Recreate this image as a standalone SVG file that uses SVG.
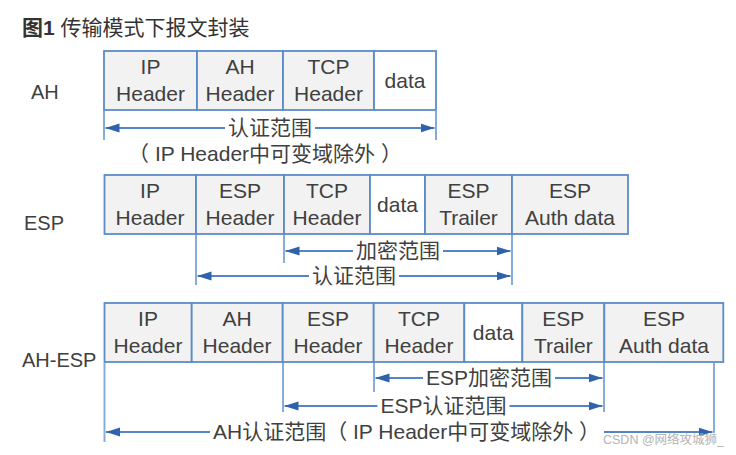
<svg xmlns="http://www.w3.org/2000/svg" width="736" height="455" viewBox="0 0 736 455">
<style>
text{font-family:"Liberation Sans","Noto Sans CJK SC",sans-serif;fill:#404040}
.t{font-size:21px;text-anchor:middle}
.lbl{font-size:20px}
.cell{fill:#f2f2f2;stroke:#5b8bc9;stroke-width:1.8}
.wc{fill:#ffffff;stroke:#5b8bc9;stroke-width:1.8}
.vl{stroke:#86acdc;stroke-width:2;fill:none}
.ar{stroke:#5585c5;stroke-width:2;fill:none}
.s{marker-start:url(#ah)}
.e{marker-end:url(#ah)}
</style>
<defs>
<marker id="ah" viewBox="0 0 14 10" refX="14" refY="5" markerWidth="14" markerHeight="10" markerUnits="userSpaceOnUse" orient="auto-start-reverse">
<path d="M0,0.5 L14,5 L0,9.5 z" fill="#2e62ab"/>
</marker>
</defs>
<rect width="736" height="455" fill="#ffffff"/>

<g id="title">
<text x="22" y="35" style="font-size:21px;fill:#333"><tspan font-weight="bold">图1</tspan> 传输模式下报文封装</text>
</g>

<!-- AH row -->
<g id="label-ah"><text class="lbl" x="31" y="99">AH</text></g>
<g id="ah-ipheader"><rect class="cell" x="104" y="51" width="93" height="59"/><text class="t" x="150.5" y="73.5">IP</text><text class="t" x="150.5" y="100.5">Header</text></g>
<g id="ah-ahheader"><rect class="cell" x="197" y="51" width="86" height="59"/><text class="t" x="240" y="73.5">AH</text><text class="t" x="240" y="100.5">Header</text></g>
<g id="ah-tcpheader"><rect class="cell" x="283" y="51" width="91" height="59"/><text class="t" x="328.5" y="73.5">TCP</text><text class="t" x="328.5" y="100.5">Header</text></g>
<g id="ah-data"><rect class="wc" x="374" y="51" width="62" height="59"/><text class="t" x="405" y="88">data</text></g>

<!-- ESP row -->
<g id="label-esp"><text class="lbl" x="24" y="230">ESP</text></g>
<g id="esp-ipheader"><rect class="cell" x="104.5" y="175" width="91.5" height="59"/><text class="t" x="150" y="197.5">IP</text><text class="t" x="150" y="224.5">Header</text></g>
<g id="esp-espheader"><rect class="cell" x="196" y="175" width="88" height="59"/><text class="t" x="240" y="197.5">ESP</text><text class="t" x="240" y="224.5">Header</text></g>
<g id="esp-tcpheader"><rect class="cell" x="284" y="175" width="86" height="59"/><text class="t" x="327" y="197.5">TCP</text><text class="t" x="327" y="224.5">Header</text></g>
<g id="esp-data"><rect class="wc" x="370" y="175" width="55" height="59"/><text class="t" x="397.5" y="212">data</text></g>
<g id="esp-esptrailer"><rect class="cell" x="425" y="175" width="87" height="59"/><text class="t" x="468.5" y="197.5">ESP</text><text class="t" x="468.5" y="224.5">Trailer</text></g>
<g id="esp-espauth"><rect class="cell" x="512" y="175" width="116" height="59"/><text class="t" x="570" y="197.5">ESP</text><text class="t" x="570" y="224.5">Auth data</text></g>

<!-- AH-ESP row -->
<g id="label-ahesp"><text class="lbl" x="22" y="367">AH-ESP</text></g>
<g id="ahesp-ipheader"><rect class="cell" x="104.5" y="303" width="87.2" height="59"/><text class="t" x="148" y="326">IP</text><text class="t" x="148" y="352.5">Header</text></g>
<g id="ahesp-ahheader"><rect class="cell" x="191.7" y="303" width="91" height="59"/><text class="t" x="237" y="326">AH</text><text class="t" x="237" y="352.5">Header</text></g>
<g id="ahesp-espheader"><rect class="cell" x="282.7" y="303" width="91" height="59"/><text class="t" x="328" y="326">ESP</text><text class="t" x="328" y="352.5">Header</text></g>
<g id="ahesp-tcpheader"><rect class="cell" x="373.7" y="303" width="90.6" height="59"/><text class="t" x="419" y="326">TCP</text><text class="t" x="419" y="352.5">Header</text></g>
<g id="ahesp-data"><rect class="wc" x="464.3" y="303" width="58" height="59"/><text class="t" x="493.3" y="340">data</text></g>
<g id="ahesp-esptrailer"><rect class="cell" x="522.3" y="303" width="82" height="59"/><text class="t" x="563.3" y="326">ESP</text><text class="t" x="563.3" y="352.5">Trailer</text></g>
<g id="ahesp-espauth"><rect class="cell" x="604.3" y="303" width="119" height="59"/><text class="t" x="664" y="326">ESP</text><text class="t" x="664" y="352.5">Auth data</text></g>

<g id="connectors">
<!-- AH row -->
<line class="vl" x1="104" y1="111" x2="104" y2="140"/>
<line class="vl" x1="436" y1="111" x2="436" y2="140"/>
<line class="ar s" x1="105.5" y1="128" x2="225" y2="128"/>
<line class="ar e" x1="315" y1="128" x2="434.5" y2="128"/>
<text class="t" x="270" y="135">认证范围</text>
<text class="t" x="265" y="161">（ IP Header中可变域除外 ）</text>

<!-- ESP row -->
<line class="vl" x1="196" y1="235" x2="196" y2="285"/>
<line class="vl" x1="284" y1="235" x2="284" y2="263"/>
<line class="vl" x1="512" y1="235" x2="512" y2="285"/>
<line class="ar s" x1="285.5" y1="251" x2="353" y2="251"/>
<line class="ar e" x1="443" y1="251" x2="510.5" y2="251"/>
<text class="t" x="398" y="258">加密范围</text>
<line class="ar s" x1="197.5" y1="276" x2="309" y2="276"/>
<line class="ar e" x1="399" y1="276" x2="510.5" y2="276"/>
<text class="t" x="354" y="283">认证范围</text>

<!-- AH-ESP row -->
<line class="vl" x1="104.5" y1="363" x2="104.5" y2="442"/>
<line class="vl" x1="283" y1="363" x2="283" y2="412"/>
<line class="vl" x1="374" y1="363" x2="374" y2="392"/>
<line class="vl" x1="604" y1="363" x2="604" y2="412"/>
<line class="vl" x1="714" y1="363" x2="714" y2="433"/>
<line class="ar s" x1="375.5" y1="378" x2="423" y2="378"/>
<line class="ar e" x1="555" y1="378" x2="602.5" y2="378"/>
<text class="t" x="489" y="385">ESP加密范围</text>
<line class="ar s" x1="284.5" y1="406" x2="377.5" y2="406"/>
<line class="ar e" x1="509.5" y1="406" x2="602.5" y2="406"/>
<text class="t" x="443.5" y="413">ESP认证范围</text>
<line class="ar s" x1="106" y1="432" x2="210" y2="432"/>
<line class="ar e" x1="604" y1="432" x2="712.5" y2="432"/>
<text class="t" x="406.5" y="439">AH认证范围（ IP Header中可变域除外 ）</text>
</g>

<g id="watermark"><text x="603" y="444" style="font-size:12.5px;fill:#b4b4b4">CSDN @网络攻城狮_</text></g>
</svg>
